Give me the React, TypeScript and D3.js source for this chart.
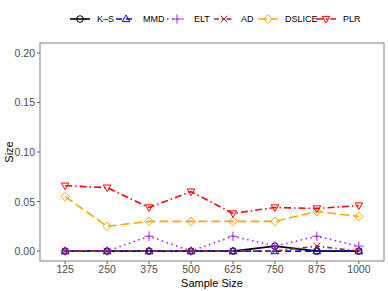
import React, { useEffect, useRef } from 'react';
import * as d3 from 'd3';

const sampleSizes = ['125', '250', '375', '500', '625', '750', '875', '1000'];
const yTicks = [0, 0.05, 0.1, 0.15, 0.2];

const ksValues = [0, 0, 0, 0, 0, 0.005, 0, 0];
const mmdValues = [0, 0, 0, 0, 0, 0, 0, 0];
const eltValues = [0, 0, 0.015, 0, 0.015, 0.005, 0.015, 0.005];
const adValues = [0, 0, 0, 0, 0, 0, 0.005, 0];
const dsliceValues = [0.055, 0.025, 0.03, 0.03, 0.03, 0.03, 0.04, 0.035];
const plrValues = [0.066, 0.064, 0.044, 0.06, 0.038, 0.044, 0.043, 0.046];

const seriesNames = ['K\u2013S', 'MMD', 'ELT', 'AD', 'DSLICE', 'PLR'];

const App: React.FC = () => {
  const svgRef = useRef<SVGSVGElement>(null);

  useEffect(() => {
    if (!svgRef.current) return;
    const width = 388;
    const height = 291;
    const margin = { top: 43, right: 4, bottom: 30, left: 40 };

    const svg = d3.select(svgRef.current);
    svg.selectAll('*').remove();

    const series = [
      { name: seriesNames[0], values: ksValues, color: '#000000', dash: null, shape: 'circle' },
      { name: seriesNames[1], values: mmdValues, color: '#0000FF', dash: '6,4', shape: 'triUp' },
      { name: seriesNames[2], values: eltValues, color: '#A020F0', dash: '1.5,3.5', shape: 'plus' },
      { name: seriesNames[3], values: adValues, color: '#A52A2A', dash: '5,3,1.5,3', shape: 'cross' },
      { name: seriesNames[4], values: dsliceValues, color: '#FFA500', dash: '9,4', shape: 'diamond' },
      { name: seriesNames[5], values: plrValues, color: '#FF0000', dash: '7,3,1.5,3', shape: 'triDown' },
    ];

    const x = d3.scalePoint<string>()
      .domain(sampleSizes)
      .range([margin.left, width - margin.right])
      .padding(0.6);

    const y = d3.scaleLinear()
      .domain([-0.01, 0.21])
      .range([height - margin.bottom, margin.top]);

    const drawShape = (g: any, shape: string, cx: number, cy: number, color: string) => {
      const s = 3.3;
      if (shape === 'circle') {
        g.append('circle').attr('cx', cx).attr('cy', cy).attr('r', s)
          .attr('fill', 'none').attr('stroke', color).attr('stroke-width', 1);
      } else if (shape === 'triUp') {
        g.append('path')
          .attr('d', `M${cx},${cy - s * 1.2}L${cx + s * 1.15},${cy + s * 0.8}L${cx - s * 1.15},${cy + s * 0.8}Z`)
          .attr('fill', 'none').attr('stroke', color).attr('stroke-width', 1);
      } else if (shape === 'triDown') {
        g.append('path')
          .attr('d', `M${cx},${cy + s * 1.2}L${cx + s * 1.15},${cy - s * 0.8}L${cx - s * 1.15},${cy - s * 0.8}Z`)
          .attr('fill', 'none').attr('stroke', color).attr('stroke-width', 1);
      } else if (shape === 'diamond') {
        g.append('path')
          .attr('d', `M${cx},${cy - s * 1.3}L${cx + s * 1.3},${cy}L${cx},${cy + s * 1.3}L${cx - s * 1.3},${cy}Z`)
          .attr('fill', 'none').attr('stroke', color).attr('stroke-width', 1);
      } else if (shape === 'plus') {
        g.append('path')
          .attr('d', `M${cx - s * 1.4},${cy}H${cx + s * 1.4}M${cx},${cy - s * 1.4}V${cy + s * 1.4}`)
          .attr('stroke', color).attr('stroke-width', 1);
      } else if (shape === 'cross') {
        const d = s;
        g.append('path')
          .attr('d', `M${cx - d},${cy - d}L${cx + d},${cy + d}M${cx - d},${cy + d}L${cx + d},${cy - d}`)
          .attr('stroke', color).attr('stroke-width', 1);
      }
    };

    // y axis ticks and labels
    const yAxis = svg.append('g');
    yTicks.forEach(t => {
      yAxis.append('line')
        .attr('x1', margin.left - 3).attr('x2', margin.left)
        .attr('y1', y(t)).attr('y2', y(t))
        .attr('stroke', '#333').attr('stroke-width', 0.8);
      yAxis.append('text')
        .attr('x', margin.left - 5).attr('y', y(t))
        .attr('text-anchor', 'end').attr('dominant-baseline', 'central')
        .attr('fill', '#4D4D4D').style('font-size', '10.5px')
        .text(d3.format('.2f')(t));
    });

    // x axis ticks and labels
    const xAxis = svg.append('g');
    sampleSizes.forEach(s => {
      xAxis.append('line')
        .attr('x1', x(s)!).attr('x2', x(s)!)
        .attr('y1', height - margin.bottom).attr('y2', height - margin.bottom + 3)
        .attr('stroke', '#333').attr('stroke-width', 0.8);
      xAxis.append('text')
        .attr('x', x(s)!).attr('y', height - margin.bottom + 12)
        .attr('text-anchor', 'middle')
        .attr('fill', '#4D4D4D').style('font-size', '10.5px')
        .text(s);
    });

    // series lines and points
    const line = d3.line<number>()
      .x((d, i) => x(sampleSizes[i])!)
      .y(d => y(d));

    series.forEach(s => {
      svg.append('path')
        .datum(s.values)
        .attr('d', line)
        .attr('fill', 'none')
        .attr('stroke', s.color)
        .attr('stroke-width', 1.6)
        .attr('stroke-dasharray', s.dash);
      const pg = svg.append('g');
      s.values.forEach((v, i) => drawShape(pg, s.shape, x(sampleSizes[i])!, y(v), s.color));
    });

    // panel border
    svg.append('rect')
      .attr('x', margin.left).attr('y', margin.top)
      .attr('width', width - margin.left - margin.right)
      .attr('height', height - margin.top - margin.bottom)
      .attr('fill', 'none').attr('stroke', '#7F7F7F').attr('stroke-width', 1);

    // axis titles
    svg.append('text')
      .attr('x', (margin.left + width - margin.right) / 2).attr('y', height - 4)
      .attr('text-anchor', 'middle').style('font-size', '11px').attr('fill', '#000')
      .text('Sample Size');
    svg.append('text')
      .attr('transform', `translate(13, ${(margin.top + height - margin.bottom) / 2}) rotate(-90)`)
      .attr('text-anchor', 'middle').style('font-size', '11px').attr('fill', '#000')
      .text('Size');

    // legend
    const legendX = [70, 116, 167, 214, 258, 316];
    const legend = svg.append('g');
    series.forEach((s, i) => {
      const lx = legendX[i];
      const ly = 19;
      legend.append('line')
        .attr('x1', lx).attr('x2', lx + 20)
        .attr('y1', ly).attr('y2', ly)
        .attr('stroke', s.color).attr('stroke-width', 1.6)
        .attr('stroke-dasharray', s.dash);
      drawShape(legend, s.shape, lx + 10, ly, s.color);
      legend.append('text')
        .attr('x', lx + 27).attr('y', ly)
        .attr('dominant-baseline', 'central')
        .style('font-size', '9px').attr('fill', '#000')
        .text(s.name);
    });
  }, []);

  return (
    <svg ref={svgRef} width={388} height={291}
      style={{ position: 'absolute', left: 0, top: 0, fontFamily: 'Liberation Sans, Arial, sans-serif', background: '#fff' }} />
  );
};

export default App;
